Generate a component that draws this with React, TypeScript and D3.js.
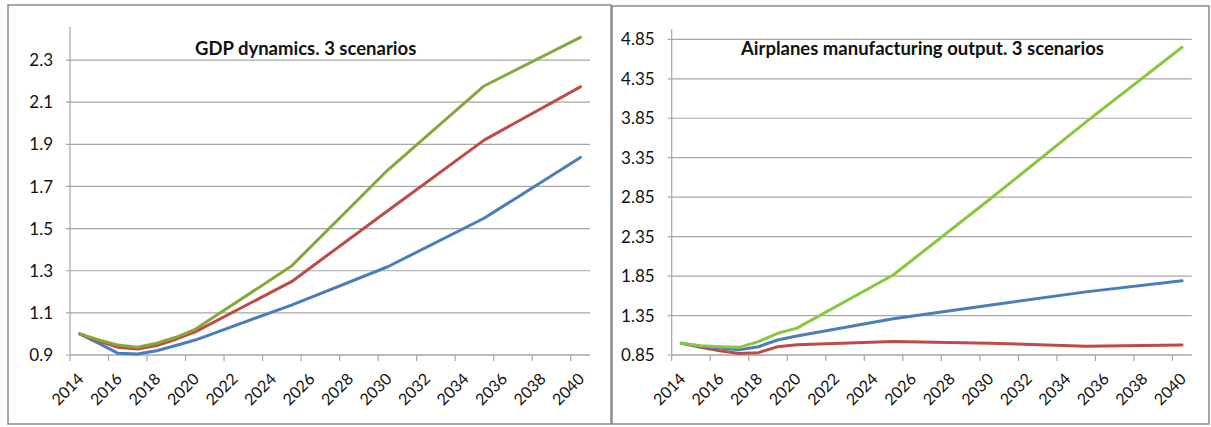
import React from "react";
import * as d3 from "d3";

// ---------- data ----------
const gdpYears = [2014, 2015, 2016, 2017, 2018, 2019, 2020, 2025, 2030, 2035, 2040];
const gdpBlue = [1.0, 0.955, 0.908, 0.905, 0.92, 0.945, 0.971, 1.137, 1.319, 1.549, 1.838];
const gdpRed = [1.0, 0.966, 0.937, 0.928, 0.945, 0.975, 1.01, 1.248, 1.585, 1.92, 2.173];
const gdpGreen = [1.0, 0.971, 0.947, 0.937, 0.956, 0.984, 1.022, 1.322, 1.778, 2.177, 2.408];
const gdpTicks = [0.9, 1.1, 1.3, 1.5, 1.7, 1.9, 2.1, 2.3];

const airYears = [2014, 2015, 2016, 2017, 2018, 2019, 2020, 2025, 2030, 2035, 2040];
const airBlue = [1.0, 0.96, 0.94, 0.915, 0.955, 1.04, 1.09, 1.31, 1.48, 1.65, 1.79];
const airRed = [1.0, 0.947, 0.905, 0.87, 0.88, 0.955, 0.98, 1.02, 1.0, 0.962, 0.977];
const airGreen = [1.0, 0.968, 0.955, 0.947, 1.02, 1.125, 1.19, 1.864, 2.82, 3.8, 4.749];
const airTicks = [0.85, 1.35, 1.85, 2.35, 2.85, 3.35, 3.85, 4.35, 4.85];

const yearLabels = [2014, 2016, 2018, 2020, 2022, 2024, 2026, 2028, 2030, 2032, 2034, 2036, 2038, 2040];

type Series = { values: number[]; color: string };

type PanelProps = {
  frame: [number, number, number, number];
  plotLeft: number;
  plotRight: number;
  plotTop: number;
  plotBottom: number;
  yDomain: [number, number];
  yTicks: number[];
  tickFmt: string;
  title: string;
  titleX: number;
  years: number[];
  series: Series[];
  curve: d3.CurveFactory;
};

const FONT = "Lato, 'Open Sans', sans-serif";

function Panel(p: PanelProps) {
  const x = d3.scaleLinear().domain([2013.5, 2040.5]).range([p.plotLeft, p.plotRight]);
  const y = d3.scaleLinear().domain(p.yDomain).range([p.plotBottom, p.plotTop]);
  const fmt = d3.format(p.tickFmt);
  const tickYears = d3.range(2013.5, 2040, 2);
  const line = d3
    .line<number>()
    .x((_, i) => x(p.years[i]))
    .y((v) => y(v))
    .curve(p.curve);
  const [fx, fy, fw, fh] = p.frame;
  return (
    <g>
      <rect x={fx} y={fy} width={fw} height={fh} fill="#fff" stroke="#8a8a8a" strokeWidth={1.5} />
      {p.yTicks.map((t) => (
        <g key={t}>
          <line x1={p.plotLeft - 4} x2={p.plotRight} y1={y(t)} y2={y(t)} stroke="#a6a6a6" strokeWidth={1.2} />
          <text
            x={p.plotLeft - 17}
            y={y(t)}
            dy="0.36em"
            textAnchor="end"
            fontFamily={FONT}
            fontSize={17}
            fill="#111"
          >
            {fmt(t)}
          </text>
        </g>
      ))}
      <line x1={p.plotLeft} x2={p.plotLeft} y1={p.plotTop} y2={p.plotBottom} stroke="#a6a6a6" strokeWidth={1.2} />
      <line x1={p.plotLeft} x2={p.plotRight} y1={p.plotBottom} y2={p.plotBottom} stroke="#a6a6a6" strokeWidth={1.2} />
      {tickYears.map((t) => (
        <line key={t} x1={x(t)} x2={x(t)} y1={p.plotBottom} y2={p.plotBottom + 6} stroke="#a6a6a6" strokeWidth={1.2} />
      ))}
      {yearLabels.map((yr) => (
        <text
          key={yr}
          transform={`translate(${x(yr) + 5},${p.plotBottom + 25}) rotate(-45)`}
          textAnchor="end"
          fontFamily={FONT}
          fontSize={16}
          fill="#111"
        >
          {yr}
        </text>
      ))}
      <text x={p.titleX} y={55} fontFamily={FONT} fontWeight={700} fontSize={18.5} fill="#111">
        {p.title}
      </text>
      {p.series.map((s, i) => (
        <path
          key={i}
          d={line(s.values) || ""}
          fill="none"
          stroke={s.color}
          strokeWidth={3}
          strokeLinejoin="round"
          strokeLinecap="round"
        />
      ))}
    </g>
  );
}

export default function App() {
  return (
    <svg
      width={1211}
      height={427}
      style={{ position: "absolute", left: 0, top: 0, background: "#fff" }}
    >
      <rect x={0} y={0} width={1211} height={427} fill="#fff" />
      <Panel
        frame={[8, 5, 603, 419]}
        plotLeft={70}
        plotRight={590}
        plotTop={27}
        plotBottom={355}
        yDomain={[0.9, 2.457]}
        yTicks={gdpTicks}
        tickFmt=".1f"
        title="GDP dynamics. 3 scenarios"
        titleX={195}
        years={gdpYears}
        series={[
          { values: gdpBlue, color: "#4a7ebb" },
          { values: gdpRed, color: "#be4b48" },
          { values: gdpGreen, color: "#86a83a" },
        ]}
        curve={d3.curveLinear}
      />
      <Panel
        frame={[612, 6, 597, 418]}
        plotLeft={671.7}
        plotRight={1191.7}
        plotTop={29}
        plotBottom={355}
        yDomain={[0.85, 4.981]}
        yTicks={airTicks}
        tickFmt=".2f"
        title="Airplanes manufacturing output. 3 scenarios"
        titleX={741}
        years={airYears}
        series={[
          { values: airRed, color: "#be4b48" },
          { values: airBlue, color: "#4a7ebb" },
          { values: airGreen, color: "#8cc63f" },
        ]}
        curve={d3.curveLinear}
      />
    </svg>
  );
}
